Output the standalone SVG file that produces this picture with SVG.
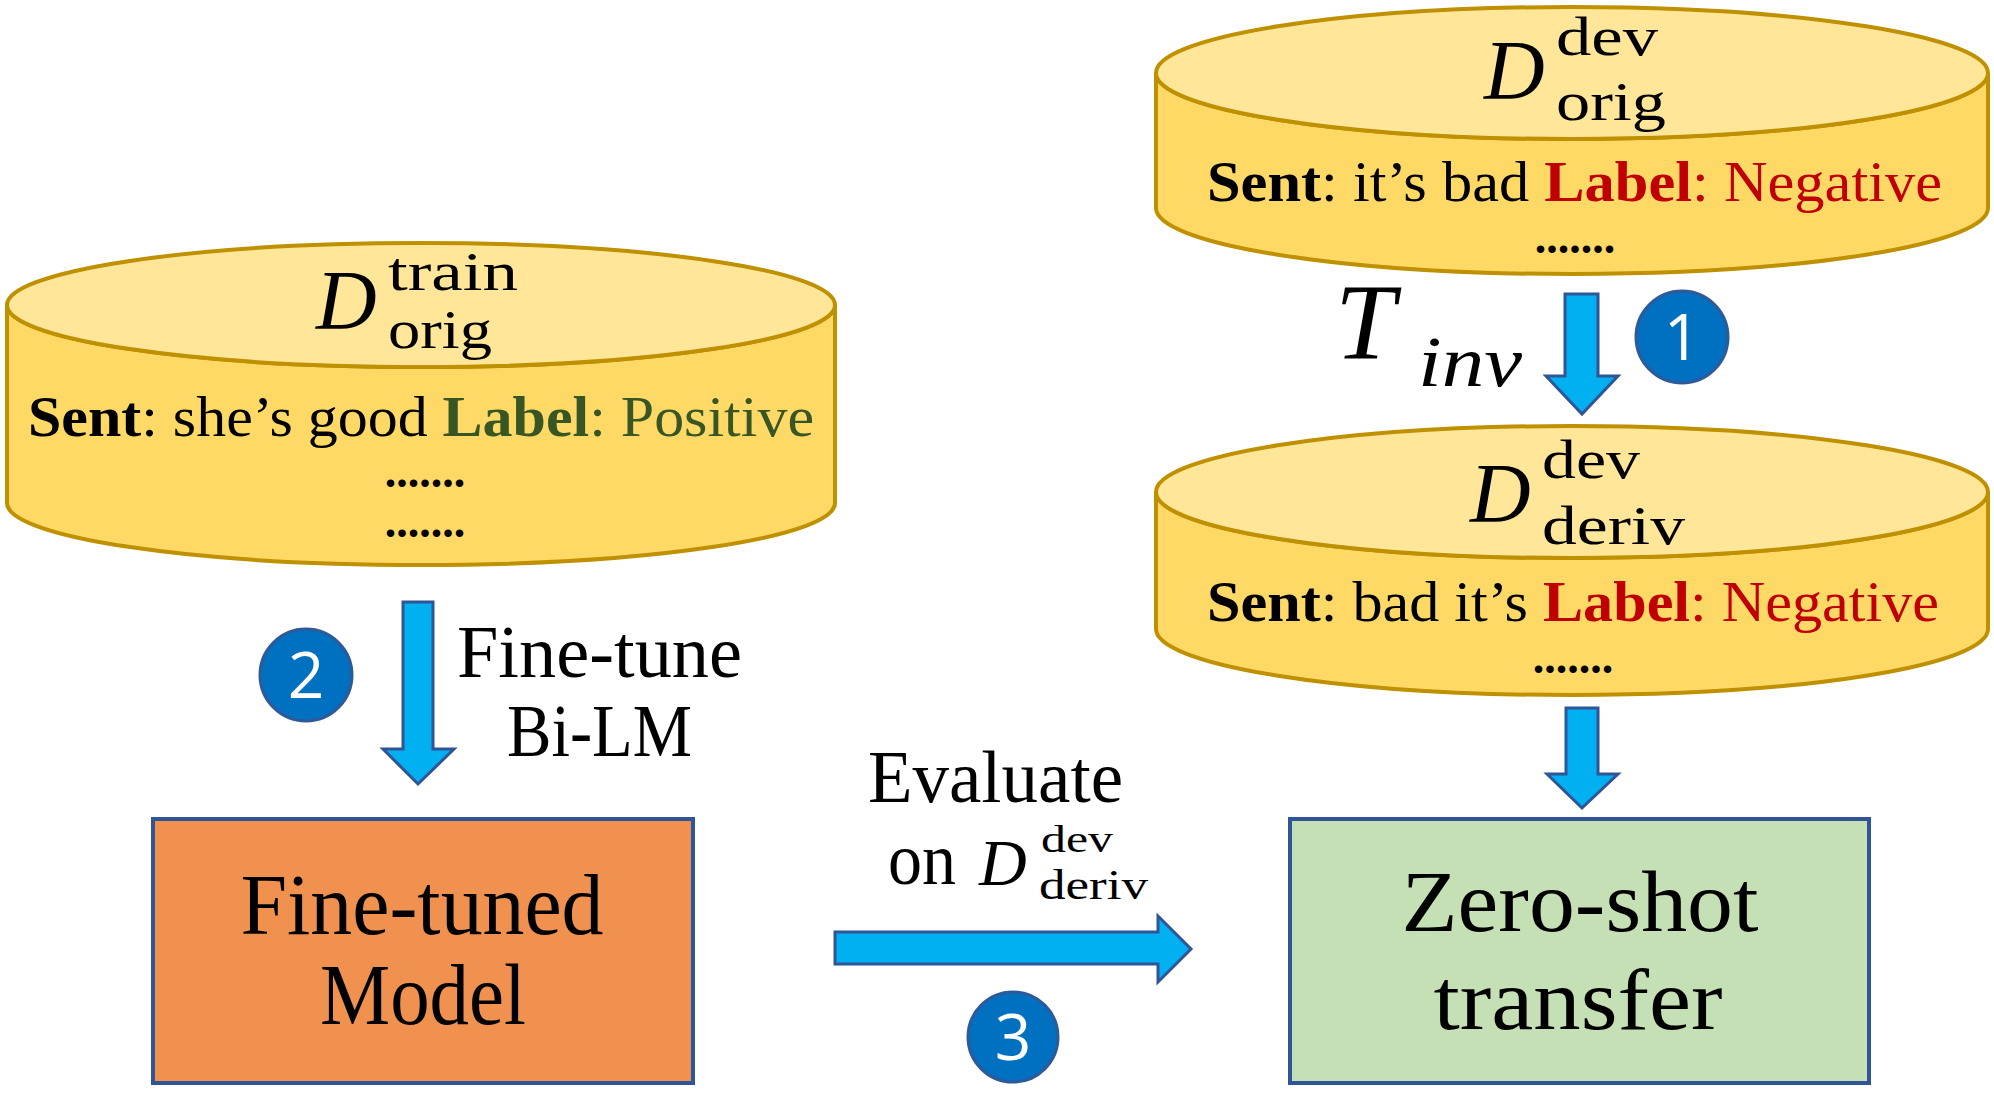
<svg xmlns="http://www.w3.org/2000/svg" width="1994" height="1094" viewBox="0 0 1994 1094">
<style>
.cylside{fill:#FFD966;stroke:#BF9000;stroke-width:4}
.cyltop{fill:#FFE699;stroke:#BF9000;stroke-width:4}
.serif{font-family:"Liberation Serif","Times New Roman",serif;fill:#000}
.sent{font-size:57px}
.b{font-weight:bold}
.math{font-style:italic}
.sup{font-size:54px}
.dots{font-size:46px;font-weight:bold;text-anchor:middle}
.arrow{fill:#00B0F0;stroke:#2F5597;stroke-width:3;stroke-linejoin:miter}
.badge circle{fill:#0070C0;stroke:#2E5A9A;stroke-width:3}
.badge text{font-family:"Open Sans","Liberation Sans",sans-serif;font-size:64px;fill:#fff;text-anchor:middle}
.box{stroke:#2F5597;stroke-width:4}
.big{font-size:86px;text-anchor:middle}
.lbl{font-size:74px}
.green{fill:#375623}
.red{fill:#C00000}
</style>

<g id="train-db">
  <path class="cylside" d="M7,305 V503 A414,62 0 0 0 835,503 V305 A414,62 0 0 1 7,305 Z"/>
  <ellipse class="cyltop" cx="421" cy="305" rx="414" ry="62"/>
  <text class="serif math" x="316" y="329" font-size="84">D</text>
  <text class="serif sup" x="388" y="290" textLength="130" lengthAdjust="spacingAndGlyphs">train</text>
  <text class="serif sup" x="388" y="348" textLength="104" lengthAdjust="spacingAndGlyphs">orig</text>
  <text class="serif sent" x="28" y="436" textLength="786" lengthAdjust="spacingAndGlyphs"><tspan class="b">Sent</tspan>: she’s good <tspan class="b green">Label</tspan><tspan class="green">: Positive</tspan></text>
  <text class="serif dots" x="425" y="487">.......</text>
  <text class="serif dots" x="425" y="537">.......</text>
</g>

<g id="dev-orig-db">
  <path class="cylside" d="M1156,73 V208 A416,66 0 0 0 1988,208 V73 A416,66 0 0 1 1156,73 Z"/>
  <ellipse class="cyltop" cx="1572" cy="73" rx="416" ry="66"/>
  <text class="serif math" x="1484" y="99" font-size="84">D</text>
  <text class="serif sup" x="1556" y="55" textLength="102" lengthAdjust="spacingAndGlyphs">dev</text>
  <text class="serif sup" x="1556" y="120" textLength="110" lengthAdjust="spacingAndGlyphs">orig</text>
  <text class="serif sent" x="1207" y="201" textLength="735" lengthAdjust="spacingAndGlyphs"><tspan class="b">Sent</tspan>: it’s bad <tspan class="b red">Label</tspan><tspan class="red">: Negative</tspan></text>
  <text class="serif dots" x="1575" y="253">.......</text>
</g>

<g id="dev-deriv-db">
  <path class="cylside" d="M1156,492 V629 A416,66 0 0 0 1988,629 V492 A416,66 0 0 1 1156,492 Z"/>
  <ellipse class="cyltop" cx="1572" cy="492" rx="416" ry="66"/>
  <text class="serif math" x="1470" y="522" font-size="84">D</text>
  <text class="serif sup" x="1542" y="478" textLength="98" lengthAdjust="spacingAndGlyphs">dev</text>
  <text class="serif sup" x="1542" y="544" textLength="143" lengthAdjust="spacingAndGlyphs">deriv</text>
  <text class="serif sent" x="1207" y="621" textLength="732" lengthAdjust="spacingAndGlyphs"><tspan class="b">Sent</tspan>: bad it’s <tspan class="b red">Label</tspan><tspan class="red">: Negative</tspan></text>
  <text class="serif dots" x="1573" y="673">.......</text>
</g>

<g id="finetuned-model">
  <rect class="box" x="153" y="819" width="540" height="264" fill="#F09150"/>
  <text class="serif big" x="422" y="934" textLength="363" lengthAdjust="spacingAndGlyphs">Fine-tuned</text>
  <text class="serif big" x="423" y="1024" textLength="206" lengthAdjust="spacingAndGlyphs">Model</text>
</g>

<g id="zero-shot">
  <rect class="box" x="1290" y="819" width="579" height="264" fill="#C5E0B4"/>
  <text class="serif big" x="1580" y="931" textLength="357" lengthAdjust="spacingAndGlyphs">Zero-shot</text>
  <text class="serif big" x="1578" y="1029" textLength="289" lengthAdjust="spacingAndGlyphs">transfer</text>
</g>

<g id="connectors">
  <polygon class="arrow" points="1565,294 1598,294 1598,376 1618,376 1582,414 1546,376 1565,376"/>
  <polygon class="arrow" points="1566,708 1598,708 1598,774 1618,774 1582,808 1547,774 1566,774"/>
  <polygon class="arrow" points="403,602 433,602 433,749 454,749 418,784 383,749 403,749"/>
  <polygon class="arrow" points="835,932 1158,932 1158,916 1191,949 1158,982 1158,964 835,964"/>
</g>

<g id="labels">
  <text class="serif math" x="1335" y="358" font-size="108">T</text>
  <text class="serif math" x="1418" y="386" font-size="72" textLength="104" lengthAdjust="spacingAndGlyphs">inv</text>
  <text class="serif lbl" x="457" y="677" textLength="285" lengthAdjust="spacingAndGlyphs">Fine-tune</text>
  <text class="serif lbl" x="507" y="756" textLength="185" lengthAdjust="spacingAndGlyphs">Bi-LM</text>
  <text class="serif lbl" x="868" y="802" textLength="255" lengthAdjust="spacingAndGlyphs">Evaluate</text>
  <text class="serif lbl" x="888" y="884" textLength="68" lengthAdjust="spacingAndGlyphs">on</text>
  <text class="serif math" x="979" y="885" font-size="66">D</text>
  <text class="serif" x="1041" y="852" font-size="38" textLength="72" lengthAdjust="spacingAndGlyphs">dev</text>
  <text class="serif" x="1039" y="899" font-size="42" textLength="109" lengthAdjust="spacingAndGlyphs">deriv</text>
</g>

<g id="badge-1" class="badge">
  <circle cx="1682" cy="337" r="46"/>
  <text x="1682" y="360">1</text>
</g>
<g id="badge-2" class="badge">
  <circle cx="306" cy="675" r="46"/>
  <text x="306" y="698">2</text>
</g>
<g id="badge-3" class="badge">
  <circle cx="1013" cy="1037" r="45"/>
  <text x="1013" y="1060">3</text>
</g>
</svg>
